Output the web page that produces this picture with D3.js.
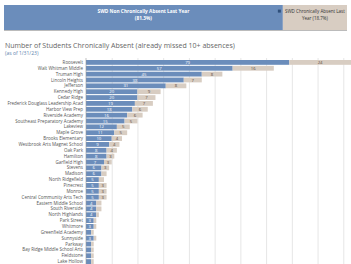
<!DOCTYPE html>
<html><head><meta charset="utf-8">
<script src="https://cdn.jsdelivr.net/npm/d3@7"></script>
<style>body{margin:0;background:#fff}svg{display:block;font-family:"Open Sans",Arial,sans-serif}</style>
</head><body><svg id="c" width="351" height="264"></svg>
<script>
const summaryLabels = ["SWD Non Chronically Absent Last Year", "SWD Chronically Absent Last Year"];
const summaryShare = [81.3, 18.7];
const schools = ["Roosevelt","Walt Whitman Middle","Truman High","Lincoln Heights","Jefferson","Kennedy High","Cedar Ridge","Frederick Douglass Leadership Acad","Harbor View Prep","Riverside Academy","Southeast Preparatory Academy","Lakeview","Maple Grove","Brooks Elementary","Westbrook Arts Magnet School","Oak Park","Hamilton","Garfield High","Stevens","Madison","North Ridgefield","Pinecrest","Monroe","Central Community Arts Tech","Eastern Middle School","South Riverside","North Highlands","Park Street","Whitmore","Greenfield Academy","Sunnyside","Parkway","Bay Ridge Middle School Arts","Fieldstone","Lake Hollow"];
const notLastYear = [79,57,45,38,31,20,20,19,18,16,15,12,11,10,9,8,8,7,6,6,5,5,5,5,4,4,4,3,3,2,3,2,2,2,2];
const lastYear    = [24,16,8,7,8,9,7,7,6,6,5,5,5,4,4,4,3,3,3,2,2,3,3,3,2,2,1,1,1,1,1,1,1,1,1];
const gridTicks = [0,10,20,30,40,50,60,70,80,90,100];
const title = "Number of Students Chronically Absent (already missed 10+ absences)";
const subtitle = "(as of 1/31/23)";

const blue = "#6b8dbb", tan = "#d8cdc2";
const svg = d3.select("#c");

// summary bar
const sx = d3.scaleLinear().domain([0,100]).range([4,347]);
const sumG = svg.append("g");
let acc = 0;
summaryShare.forEach((v,i)=>{
  sumG.append("rect").attr("x",sx(acc)).attr("y",5).attr("width",sx(acc+v)-sx(acc)).attr("height",25)
    .attr("fill", i===0?blue:tan);
  acc += v;
});
sumG.append("line").attr("x1",4).attr("x2",347).attr("y1",30.5).attr("y2",30.5).attr("stroke","#bbb").attr("stroke-width",1);
const mid0 = (sx(0)+sx(summaryShare[0]))/2;
sumG.append("text").attr("x",mid0).attr("y",13).attr("text-anchor","middle").attr("fill","#fff").attr("font-size",4.8).attr("font-weight","bold").text(summaryLabels[0]);
sumG.append("text").attr("x",mid0).attr("y",19.5).attr("text-anchor","middle").attr("fill","#fff").attr("font-size",4.8).attr("font-weight","bold").text("("+summaryShare[0]+"%)");
const x1s = sx(summaryShare[0]);
const mid1 = (x1s+347)/2;
sumG.append("rect").attr("x",x1s-5).attr("y",9.6).attr("width",3).attr("height",3).attr("fill","#2f4f7a");
sumG.append("text").attr("x",mid1).attr("y",13).attr("text-anchor","middle").attr("fill","#333").attr("font-size",4.5).text("SWD Chronically Absent Last");
sumG.append("text").attr("x",mid1).attr("y",19.5).attr("text-anchor","middle").attr("fill","#333").attr("font-size",4.5).text("Year ("+summaryShare[1]+"%)");

// titles
svg.append("text").attr("x",5).attr("y",47.5).attr("fill","#666").attr("font-size",7).text(title);
svg.append("text").attr("x",5).attr("y",54.5).attr("fill","#5b7fae").attr("font-size",5).text(subtitle);

// bar chart
const x = d3.scaleLinear().domain([0,103]).range([86,351]);
const y = d3.scaleBand().domain(schools).range([60,264]).paddingInner(0.18);

svg.append("g").selectAll("line").data(gridTicks.slice(1)).join("line")
  .attr("x1",d=>x(d)+0.5).attr("x2",d=>x(d)+0.5).attr("y1",58).attr("y2",264)
  .attr("stroke","#e6e6e6").attr("stroke-width",1);

const rows = schools.map((s,i)=>({s, a:notLastYear[i], b:lastYear[i]}));
const g = svg.append("g");
g.selectAll(".ba").data(rows).join("rect").attr("x",x(0)).attr("y",d=>y(d.s))
  .attr("width",d=>x(d.a)-x(0)).attr("height",y.bandwidth()).attr("fill",blue);
g.selectAll(".bb").data(rows).join("rect").attr("x",d=>x(d.a)).attr("y",d=>y(d.s))
  .attr("width",d=>x(d.a+d.b)-x(d.a)).attr("height",y.bandwidth()).attr("fill",tan);
g.selectAll(".la").data(rows.filter(d=>x(d.a)-x(0)>7)).join("text")
  .attr("x",d=>(x(0)+x(d.a))/2).attr("y",d=>y(d.s)+y.bandwidth()/2+1.6)
  .attr("text-anchor","middle").attr("fill","#fff").attr("font-size",4.3).text(d=>d.a);
g.selectAll(".lb").data(rows.filter(d=>x(d.a+d.b)-x(d.a)>7)).join("text")
  .attr("x",d=>(x(d.a)+x(d.a+d.b))/2).attr("y",d=>y(d.s)+y.bandwidth()/2+1.6)
  .attr("text-anchor","middle").attr("fill","#5a4a3a").attr("font-size",4.3).text(d=>d.b);

svg.append("g").selectAll("text").data(schools).join("text")
  .attr("x",83).attr("y",d=>y(d)+y.bandwidth()/2+1.6).attr("text-anchor","end")
  .attr("fill","#555").attr("font-size",4.5).text(d=>d);
svg.append("line").attr("x1",86).attr("x2",86).attr("y1",58).attr("y2",264).attr("stroke","#999").attr("stroke-width",0.6);
</script></body></html>
